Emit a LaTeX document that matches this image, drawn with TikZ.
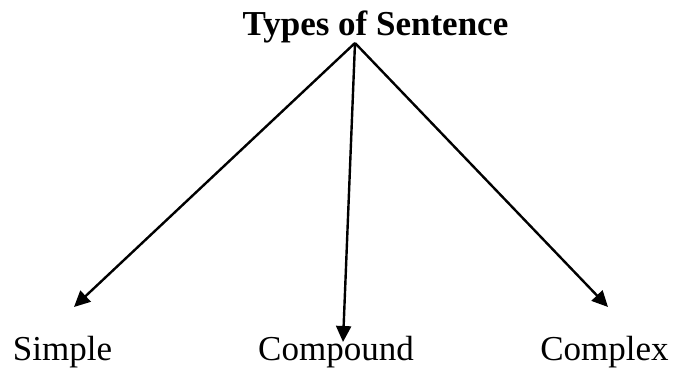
\documentclass[tikz,border=0pt]{standalone}
\usepackage{fontspec}
\setmainfont{Liberation Serif}
\usetikzlibrary{positioning, arrows.meta}

\tikzset{
    heading/.style={anchor=base, inner sep=0pt, font=\fontsize{35}{42}\selectfont\bfseries},
    kind/.style={anchor=base, inner sep=0pt, font=\fontsize{35}{42}\selectfont},
    branch/.style={line width=2.4pt, -{Triangle[length=16pt, width=15pt]}}
}

\begin{document}
\begin{tikzpicture}[x=1pt, y=-1pt]
    \useasboundingbox (0,0) rectangle (673,372);

    % Heading at the top
    \node[heading] (types) at (375.5,35) {Types of Sentence};

    % Common starting point of the three branches
    \coordinate (root) at (355,43);

    % The three kinds of sentence along the bottom
    \node[kind] (simple)   at (62.5,360)  {Simple};
    \node[kind] (compound) at (336,360)   {Compound};
    \node[kind] (complex)  at (604.5,360) {Complex};

    % Arrow tips just above the labels
    \coordinate (simpleTip)   at (74,307);
    \coordinate (compoundTip) at (343,342);
    \coordinate (complexTip)  at (608,307);

    % Branches
    \draw[branch] (root) -- (simpleTip);
    \draw[branch] (root) -- (compoundTip);
    \draw[branch] (root) -- (complexTip);

\end{tikzpicture}
\end{document}
